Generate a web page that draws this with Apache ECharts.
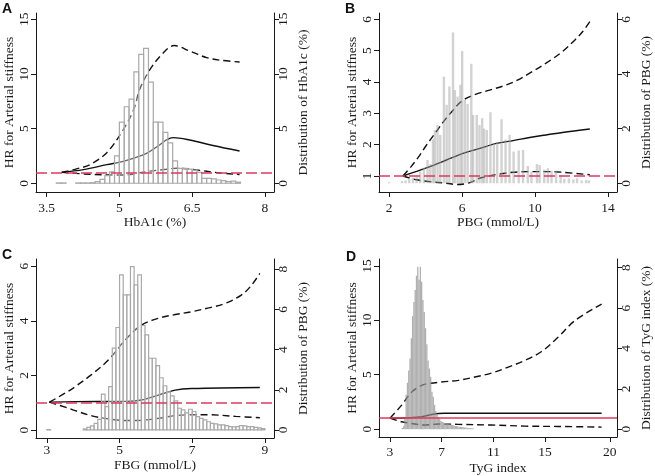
<!DOCTYPE html>
<html><head><meta charset="utf-8">
<script src="https://cdn.jsdelivr.net/npm/echarts@6/dist/echarts.min.js"></script>
<style>html,body{margin:0;padding:0;background:#fff}#c{width:655px;height:476px}</style>
</head><body><div id="c"></div>
<script>
// ---------- Panel A: HbA1c ----------
const aXTicks = [3.5, 5, 6.5, 8];
const aYTicks = [0, 5, 10, 15];
const aRTicks = [0, 5, 10, 15];
const aBinStart = 3.7, aBinWidth = 0.1;
const aHist = [0.03,0.03,0,0,0.03,0.03,0.03,0.05,
  0.15,0.35,0.7,1.05,2.5,
  5.6,7.0,7.7,10.2,11.8,12.35,9.25,5.6,5.6,4.66,
  3.7,2.04,1.37,1.37,1.3,1.2,1.0,0.45,0.45,0.4,
  0.3,0.25,0.15,0.2,0.1];
const aUpper = [[3.81,1],[4.1,1.3],[4.39,1.7],[4.74,2.8],[5.08,4.9],[5.3,6.8],[5.42,8.6],[5.63,10.4],[5.9,11.9],[6.13,12.6],[6.45,12.1],[6.8,11.5],[7.1,11.25],[7.48,11.1]];
const aHR = [[3.81,1],[4.26,1.25],[4.74,1.7],[5.08,2.0],[5.29,2.29],[5.56,2.74],[5.83,3.5],[5.97,3.96],[6.11,4.18],[6.45,3.96],[6.93,3.45],[7.48,2.95]];
const aLower = [[3.81,1],[4.39,0.82],[4.9,0.76],[5.08,0.76],[5.3,0.85],[5.56,1.07],[5.97,1.28],[6.18,1.37],[6.59,1.22],[7.0,0.98],[7.48,0.8]];

// ---------- Panel B: PBG ----------
const bXTicks = [2, 6, 10, 14];
const bYTicks = [1, 2, 3, 4, 5, 6];
const bRTicks = [0, 2, 4, 6];
const bBarX = [2.0,2.7,2.9,3.1,3.3,3.5,3.7,3.9,4.1,4.25,4.4,4.5,4.65,4.8,5.0,5.15,5.3,5.5,5.6,5.75,5.9,6.0,6.15,6.3,6.5,6.6,6.8,6.95,7.1,7.2,7.35,7.55,7.74,7.92,8.16,8.38,8.6,8.82,9.1,9.34,9.6,9.8,10.1,10.25,10.5,10.7,10.9,11.15,11.4,11.6,11.85,12.1,12.3,12.55,12.8,12.95];
const bBarH = [0.04,0.08,0.1,0.15,0.2,0.25,0.43,0.57,0.85,0.7,1.6,1.95,2.13,1.77,3.9,2.87,3.54,5.52,3.41,3.17,3.6,4.84,3.05,2.9,4.37,2.5,2.5,2.13,2.38,2.0,1.95,2.6,1.46,1.5,2.34,1.6,1.77,1.16,1.2,1.22,0.63,0.43,0.7,0.67,0.5,0.55,0.46,0.46,0.3,0.16,0.18,0.14,0.18,0.1,0.12,0.1];
const bUpper = [[2.75,1],[3.2,1.3],[3.6,1.6],[4.0,1.95],[4.5,2.35],[5.0,2.75],[5.5,3.1],[5.9,3.35],[6.3,3.5],[6.8,3.62],[7.5,3.74],[8.3,3.88],[9.0,4.05],[9.7,4.28],[10.6,4.6],[11.5,4.97],[12.2,5.35],[12.6,5.6],[13.0,5.93]];
const bHR = [[2.75,1],[3.5,1.15],[4.23,1.3],[5.14,1.51],[6.05,1.72],[6.97,1.88],[7.88,2.04],[8.8,2.13],[9.7,2.23],[10.6,2.31],[11.5,2.39],[13.0,2.5]];
const bLower = [[2.75,1],[3.5,0.88],[4.23,0.82],[5.14,0.77],[5.69,0.73],[6.24,0.76],[6.6,0.83],[6.97,0.93],[7.5,1.0],[7.88,1.05],[8.8,1.12],[9.7,1.14],[10.6,1.14],[11.5,1.12],[13.0,1.04]];

// ---------- Panel C: FBG ----------
const cXTicks = [3, 5, 7, 9];
const cYTicks = [0, 2, 4, 6];
const cRTicks = [0, 2, 4, 6, 8];
const cBinStart = 3.0, cBinWidth = 0.1;
const cHist = [0.02,0,0,0,0,0,0,0,0,0,
  0.05,0.13,0.2,0.33,0.53,1.78,1.16,2.16,4.07,5.1,
  7.72,6.72,6.72,8.13,7.22,7.72,5.2,4.73,3.57,3.57,
  3.2,2.6,2.2,1.9,1.7,1.45,1.08,1.0,0.85,1.03,
  0.92,0.66,0.58,0.5,0.41,0.33,0.3,0.25,0.25,0.22,
  0.17,0.15,0.17,0.22,0.2,0.17,0.17,0.13,0.1,0.07];
const cUpper = [[3.07,1.02],[3.5,1.35],[3.78,1.59],[4.2,2.0],[4.69,2.56],[5.15,3.29],[5.6,3.84],[6.07,4.09],[6.5,4.22],[6.98,4.33],[7.45,4.47],[7.9,4.63],[8.35,4.94],[8.6,5.25],[8.86,5.73]];
const cHR = [[3.07,1.02],[3.78,1.04],[5.15,1.05],[5.6,1.1],[6.07,1.28],[6.53,1.46],[6.98,1.52],[8.86,1.56]];
const cLower = [[3.07,1.02],[3.55,0.82],[3.78,0.71],[4.24,0.52],[4.69,0.41],[5.15,0.35],[5.6,0.36],[6.07,0.43],[6.53,0.53],[7.0,0.56],[7.44,0.56],[8.2,0.5],[8.86,0.45]];

// ---------- Panel D: TyG index ----------
const dXTicks = [3, 7, 11, 15, 20];
const dYTicks = [0, 5, 10, 15];
const dRTicks = [0, 2, 4, 6, 8];
const dBinStart = 3.9, dBinWidth = 0.1;
const dHist = [0.05,0.15,0.5,1.7,2.3,2.9,3.5,4.5,5.6,6.3,
  6.9,7.6,8.05,7.4,8.05,7.3,6.4,5.8,5.0,4.2,
  3.4,3.0,2.6,1.85,1.6,1.2,0.9,0.74,0.6,0.5,
  0.4,0.35,0.33,0.3,0.28,0.26,0.25,0.24,0.2,0.2,
  0.18,0.16,0.15,0.13,0.12,0.11,0.1,0.1,0.08,0.08,
  0.07,0.06,0.05,0.05,0.04,0.04];
const dUpper = [[3.0,1],[3.9,2.2],[4.68,3.41],[5.45,4.02],[5.96,4.18],[7.0,4.33],[8.28,4.48],[9.57,4.79],[10.86,5.15],[12.15,5.7],[13.44,6.31],[14.73,7.13],[16.0,8.45],[17.3,9.97],[19.37,11.5]];
const dHR = [[3.0,1],[4.42,1.04],[5.45,1.13],[6.22,1.34],[6.74,1.43],[7.25,1.46],[19.37,1.46]];
const dLower = [[3.0,1],[3.9,0.67],[4.93,0.46],[5.7,0.37],[6.74,0.46],[8.28,0.43],[10.86,0.37],[13.44,0.27],[16.0,0.24],[19.37,0.18]];

const refHR = 1;

// ---------- build ----------
const SERIF = '"Liberation Serif","Times New Roman",serif';
const INK = '#1a1a1a';

function binData(start, width, heights) {
  return heights.map((h, i) => [start + i * width, start + (i + 1) * width, h]);
}
function barData(xs, hs, w) {
  return xs.map((x, i) => [x - w / 2, x + w / 2, hs[i]]);
}
function histRender(style) {
  return function (params, api) {
    const h = api.value(2);
    if (!(h > 0)) return null;
    const a = api.coord([api.value(0), h]);
    const b = api.coord([api.value(1), 0]);
    return { type: 'rect', shape: { x: a[0], y: a[1], width: b[0] - a[0], height: b[1] - a[1] }, style: style };
  };
}

const panels = [
  { letter:'A', lx:2, ly:2, grid:{left:36, top:13, width:238, height:179},
    x:{min:3.28, max:8.19, ticks:aXTicks, name:'HbA1c (%)', margin:9, gap:22},
    yl:{min:-0.8, max:15.58, ticks:aYTicks, gap:20},
    yr:{min:-0.8, max:15.58, ticks:aRTicks, name:'Distribution of HbA1c (%)', gap:22},
    hist: binData(aBinStart, aBinWidth, aHist), histStyle:{fill:'rgba(255,255,255,0.35)', stroke:'#a9a9a9', lineWidth:1.2},
    up:aUpper, hr:aHR, lo:aLower, refDashed:true },
  { letter:'B', lx:345, ly:2, grid:{left:379, top:13, width:238, height:179},
    x:{min:1.44, max:14.49, ticks:bXTicks, name:'PBG (mmol/L)', margin:9, gap:22},
    yl:{min:0.49, max:6.2, ticks:bYTicks, gap:20},
    yr:{min:-0.32, max:6.23, ticks:bRTicks, name:'Distribution of PBG (%)', gap:22},
    hist: barData(bBarX, bBarH, 0.13), histStyle:{fill:'rgba(165,165,165,0.5)'},
    up:bUpper, hr:bHR, lo:bLower, refDashed:true },
  { letter:'C', lx:2, ly:248, grid:{left:36, top:259, width:238, height:179},
    x:{min:2.70, max:9.25, ticks:cXTicks, name:'FBG (mmol/L)', margin:5, gap:20},
    yl:{min:-0.29, max:6.26, ticks:cYTicks, gap:20},
    yr:{min:-0.40, max:8.51, ticks:cRTicks, name:'Distribution of PBG (%)', gap:22},
    hist: binData(cBinStart, cBinWidth, cHist), histStyle:{fill:'rgba(255,255,255,0.35)', stroke:'#a9a9a9', lineWidth:1.2},
    up:cUpper, hr:cHR, lo:cLower, refDashed:true },
  { letter:'D', lx:346, ly:250, grid:{left:379, top:259, width:238, height:179},
    x:{min:2.15, max:20.56, ticks:dXTicks, name:'TyG index', margin:8, gap:24},
    yl:{min:-0.73, max:15.64, ticks:dYTicks, gap:14},
    yr:{min:-0.39, max:8.43, ticks:dRTicks, name:'Distribution of TyG index (%)', gap:22},
    hist: binData(dBinStart, dBinWidth, dHist), histStyle:{fill:'rgba(150,150,150,0.75)'},
    up:dUpper, hr:dHR, lo:dLower, refDashed:false }
];

const option = { animation:false, backgroundColor:'#fff', grid:[], xAxis:[], yAxis:[], series:[], graphic:[] };
const lbl = { color: INK, fontFamily: SERIF, fontSize: 13.5 };

panels.forEach((p, i) => {
  option.grid.push(Object.assign({ containLabel:false }, p.grid));
  option.xAxis.push({
    type:'value', gridIndex:i, min:p.x.min, max:p.x.max, position:'bottom',
    axisLine:{ show:true, onZero:false, lineStyle:{ color:INK, width:1 } },
    axisTick:{ show:true, length:5, customValues:p.x.ticks, lineStyle:{ color:INK, width:1 } },
    axisLabel:Object.assign({ customValues:p.x.ticks, margin:p.x.margin }, lbl),
    splitLine:{ show:false },
    name:p.x.name, nameLocation:'middle', nameGap:p.x.gap, nameTextStyle:Object.assign({}, lbl)
  });
  option.yAxis.push({
    type:'value', gridIndex:i, min:p.yl.min, max:p.yl.max, position:'left',
    axisLine:{ show:true, onZero:false, lineStyle:{ color:INK, width:1 } },
    axisTick:{ show:true, length:5, customValues:p.yl.ticks, lineStyle:{ color:INK, width:1 } },
    axisLabel:Object.assign({ customValues:p.yl.ticks, margin:5, rotate:90 }, lbl),
    splitLine:{ show:false },
    name:'HR for Arterial stiffness', nameLocation:'middle', nameRotate:90, nameGap:p.yl.gap, nameTextStyle:Object.assign({}, lbl)
  });
  option.yAxis.push({
    type:'value', gridIndex:i, min:p.yr.min, max:p.yr.max, position:'right',
    axisLine:{ show:true, onZero:false, lineStyle:{ color:INK, width:1 } },
    axisTick:{ show:true, length:5, customValues:p.yr.ticks, lineStyle:{ color:INK, width:1 } },
    axisLabel:Object.assign({ customValues:p.yr.ticks, margin:2, rotate:90 }, lbl),
    splitLine:{ show:false },
    name:p.yr.name, nameLocation:'middle', nameRotate:90, nameGap:p.yr.gap, nameTextStyle:Object.assign({}, lbl)
  });
  const yl = 2 * i, yr = 2 * i + 1;
  const lineBase = { type:'line', xAxisIndex:i, yAxisIndex:yl, showSymbol:false, symbol:'none', smooth:0.35, z:2, silent:true };
  option.series.push(Object.assign({}, lineBase, { data:p.up, lineStyle:{ color:'#111', width:1.4, type:[7,4] } }));
  option.series.push(Object.assign({}, lineBase, { data:p.hr, lineStyle:{ color:'#111', width:1.4 } }));
  option.series.push(Object.assign({}, lineBase, { data:p.lo, lineStyle:{ color:'#111', width:1.4, type:[7,4] } }));
  option.series.push({
    type:'custom', xAxisIndex:i, yAxisIndex:yr, data:p.hist, clip:true, z:3, silent:true,
    encode:{ x:[0,1], y:2 }, renderItem: histRender(p.histStyle)
  });
  option.series.push({
    type:'line', xAxisIndex:i, yAxisIndex:yl, data:[], z:4, silent:true,
    markLine:{ silent:true, symbol:'none', label:{ show:false }, animation:false,
      lineStyle:{ color:'#dc3a5e', width:1.5, type: p.refDashed ? [11,4] : 'solid' },
      data:[{ yAxis: refHR }] }
  });
  option.graphic.push({ type:'text', left:p.lx, top:p.ly, z:10,
    style:{ text:p.letter, font:'bold 14px "Liberation Sans", Arial, sans-serif', fill:'#111' } });
});

const chart = echarts.init(document.getElementById('c'), null, { renderer:'canvas' });
chart.setOption(option);
</script></body></html>
